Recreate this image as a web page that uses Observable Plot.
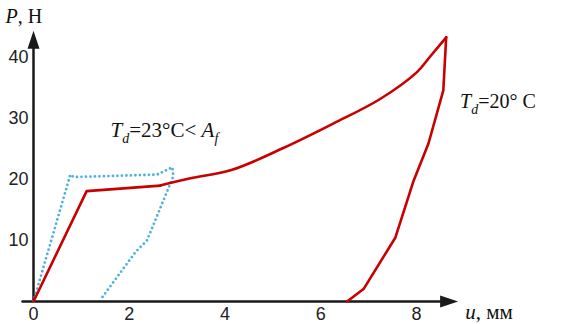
<!DOCTYPE html>
<html>
<head>
<meta charset="utf-8">
<script src="https://cdn.jsdelivr.net/npm/d3@7"></script>
<script src="https://cdn.jsdelivr.net/npm/@observablehq/plot@0.6"></script>
<style>
  html, body { margin: 0; padding: 0; background: #fff; }
</style>
</head>
<body>
<div id="chart"></div>
<script>
// Td = 20 °C curve (red, solid)
const redU = [0, 1.11, 2.65, 2.79, 3.28, 4.15, 5.23, 6.27, 7.24, 8.01, 8.29, 8.62, 8.56, 8.25, 7.94, 7.56, 6.90, 6.55];
const redP = [0, 18.1, 19.0, 19.3, 20.2, 21.6, 25.2, 29.2, 33.2, 37.6, 40.2, 43.3, 34.6, 25.9, 19.8, 10.5, 2.1, 0];
// Td = 23 °C < Af curve (blue, dotted)
const blueU = [0, 0.77, 0.84, 2.58, 2.90, 2.92, 2.37, 2.13, 1.40];
const blueP = [0, 20.8, 20.4, 20.8, 22.0, 20.5, 10.0, 8.1, 0.3];
// tick labels
const xTicks = [0, 2, 4, 6, 8];
const yTicks = [10, 20, 30, 40];

const red = redU.map((u, i) => ({u, p: redP[i]}));
const blue = blueU.map((u, i) => ({u, p: blueP[i]}));
const peak = redP.indexOf(d3.max(redP));
const redKnee = red.slice(0, 3);          // straight elastic part
const redLoad = red.slice(2, peak + 1);   // smooth loading part
const redUnload = red.slice(peak);        // unloading part

// annotations (data coordinates)
const notes = [
  {u: -0.585, p: 45.7, key: "P", size: 20},
  {u: 9.02, p: -2.79, key: "u", size: 21},
  {u: 1.61, p: 26.9, key: "T23", size: 21},
  {u: 8.91, p: 31.8, key: "T20", size: 20}
];
const rich = {
  P: '<tspan font-style="italic">P</tspan>, Н',
  u: '<tspan font-style="italic">u</tspan>, мм',
  T23: '<tspan font-style="italic">T</tspan><tspan font-style="italic" font-size="14" dy="6">d</tspan><tspan dy="-6">=23°C&lt; </tspan><tspan font-style="italic">A</tspan><tspan font-style="italic" font-size="14" dy="6">f</tspan>',
  T20: '<tspan font-style="italic">T</tspan><tspan font-style="italic" font-size="14" dy="6">d</tspan><tspan dy="-6">=20° C</tspan>'
};

// arrowhead symbol: tip at origin, pointing up
const arrowHead = {
  draw(ctx) {
    ctx.moveTo(0, 0);
    ctx.lineTo(-6, 18);
    ctx.lineTo(6, 18);
    ctx.closePath();
  }
};

const axisColor = "#1a1a1a";
const redColor = "#c80000";

const plot = Plot.plot({
  width: 581,
  height: 324,
  marginLeft: 33,
  marginRight: 165,
  marginTop: 57,
  marginBottom: 23,
  x: {domain: [0, 8]},
  y: {domain: [0, 40]},
  style: {fontFamily: "Liberation Sans", fontSize: "18px", background: "#fff", overflow: "visible"},
  marks: [
    Plot.axisX({ticks: xTicks, tickSize: 0, tickPadding: 6, label: null, fill: "#222", fontSize: 18}),
    Plot.axisY({ticks: yTicks, tickSize: 0, tickPadding: 5, label: null, fill: "#222", fontSize: 18}),
    // axis lines
    Plot.line([{u: -0.23, p: 0}, {u: 8.6, p: 0}], {x: "u", y: "p", stroke: axisColor, strokeWidth: 2.5}),
    Plot.line([{u: 0, p: 0}, {u: 0, p: 42}], {x: "u", y: "p", stroke: axisColor, strokeWidth: 2.5}),
    Plot.dot([{u: 0, p: 44.4}], {x: "u", y: "p", symbol: arrowHead, fill: axisColor, stroke: null, r: 5}),
    Plot.dot([{u: 8.87, p: 0}], {x: "u", y: "p", symbol: arrowHead, fill: axisColor, stroke: null, r: 5, rotate: 90}),
    // curves
    Plot.line(blue, {x: "u", y: "p", stroke: "#4fb0e0", strokeWidth: 2.8, strokeDasharray: "0,4.5", strokeLinecap: "round", strokeLinejoin: "round"}),
    Plot.line(redKnee, {x: "u", y: "p", stroke: redColor, strokeWidth: 2.6, strokeLinejoin: "round", strokeLinecap: "round"}),
    Plot.line(redLoad, {x: "u", y: "p", stroke: redColor, strokeWidth: 2.6, curve: "catmull-rom", strokeLinecap: "round"}),
    Plot.line(redUnload, {x: "u", y: "p", stroke: redColor, strokeWidth: 2.6, strokeLinejoin: "round", strokeLinecap: "round"}),
    // annotations
    Plot.text(notes, {x: "u", y: "p", text: "key", textAnchor: "start", lineAnchor: "bottom",
      fontSize: "size", fill: "#111"})
  ]
});

// rewrite annotation text with italics/subscripts, in a Times-like serif
d3.select(plot).selectAll("text").each(function() {
  const t = this.textContent;
  if (rich[t] !== undefined && this.closest("g[aria-label='text']")) {
    this.innerHTML = rich[t];
    this.setAttribute("font-family", "Liberation Serif");
    this.style.fontFamily = "'Liberation Serif', 'DejaVu Serif', serif";
  }
});

document.getElementById("chart").appendChild(plot);
</script>
</body>
</html>
